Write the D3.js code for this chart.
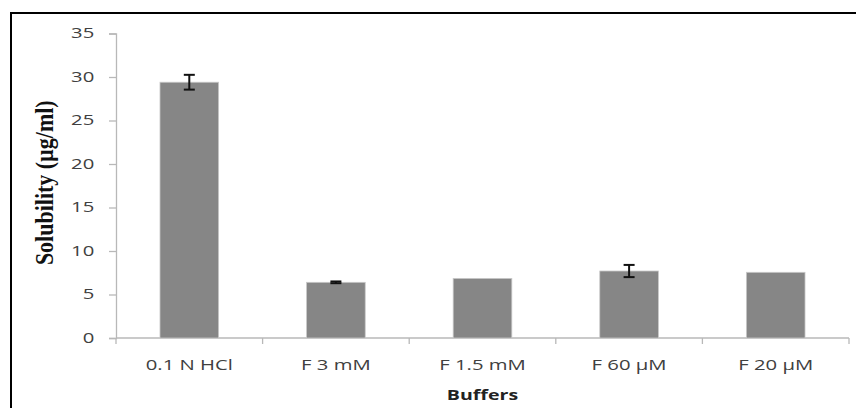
<!DOCTYPE html>
<html>
<head>
<meta charset="utf-8">
<script src="https://cdn.jsdelivr.net/npm/d3@7"></script>
<style>
  html, body { margin: 0; padding: 0; background: #fff; }
  svg { display: block; }
</style>
</head>
<body>
<svg id="chart" width="856" height="408"></svg>
<script>
const categories = ["0.1 N HCl", "F 3 mM", "F 1.5 mM", "F 60 µM", "F 20 µM"];
const values = [29.4, 6.4, 6.85, 7.7, 7.55];
const errors = [0.85, 0.1, 0, 0.7, 0];
const yTicks = [0, 5, 10, 15, 20, 25, 30, 35];

const svg = d3.select("#chart");
const pLeft = 116, pRight = 849, pTop = 33.5, pBottom = 338;
const stretch = 1.45; // horizontal stretch of text in the reference

// outer frame (only top and left visible in reference)
svg.append("rect").attr("x", 11).attr("y", 13).attr("width", 1000).attr("height", 1000)
  .attr("fill", "none").attr("stroke", "#000").attr("stroke-width", 2);

const x = d3.scaleBand().domain(categories).range([pLeft, pRight])
  .paddingInner(0.6).paddingOuter(0.3);
const y = d3.scaleLinear().domain([0, 35]).range([pBottom, pTop]);

// y axis
const yAxis = svg.append("g").attr("transform", `translate(${pLeft},0)`)
  .call(d3.axisLeft(y).tickValues(yTicks).tickSize(7).tickPadding(8));
yAxis.select(".domain").attr("stroke", "#b8b8b8").attr("stroke-width", 1.3);
yAxis.selectAll(".tick line").attr("stroke", "#b8b8b8").attr("stroke-width", 1.3);
yAxis.selectAll("text").attr("font-family", "'Open Sans', sans-serif")
  .attr("font-size", 14).attr("fill", "#404040")
  .attr("transform", `scale(${stretch},1)`);

// x axis
const xAxis = svg.append("g").attr("transform", `translate(0,${pBottom})`)
  .call(d3.axisBottom(x).tickSize(0).tickPadding(22));
xAxis.select(".domain").attr("stroke", "#b8b8b8").attr("stroke-width", 1.3)
  .attr("d", `M${pLeft},0H${pRight}`);
xAxis.selectAll("text").attr("font-family", "'Open Sans', sans-serif")
  .attr("font-size", 14).attr("fill", "#404040")
  .attr("transform", `scale(${stretch},1)`);
// category boundary ticks
const bounds = d3.range(categories.length + 1).map(i => pLeft + i * x.step());
svg.append("g").selectAll("line").data(bounds).join("line")
  .attr("x1", d => d).attr("x2", d => d)
  .attr("y1", pBottom).attr("y2", pBottom + 6)
  .attr("stroke", "#b8b8b8").attr("stroke-width", 1.3);

// bars
svg.append("g").selectAll("rect").data(values).join("rect")
  .attr("x", (d, i) => x(categories[i]))
  .attr("y", d => y(d))
  .attr("width", x.bandwidth())
  .attr("height", d => pBottom - y(d))
  .attr("fill", "#868686")
  .attr("stroke", "#c8c8c8").attr("stroke-width", 0.8);

// error bars
const eg = svg.append("g").attr("stroke", "#111").attr("stroke-width", 2);
values.forEach((v, i) => {
  if (!errors[i]) return;
  const cx = x(categories[i]) + x.bandwidth() / 2;
  const y1 = y(v + errors[i]), y2 = y(v - errors[i]);
  eg.append("line").attr("x1", cx).attr("x2", cx).attr("y1", y1).attr("y2", y2);
  eg.append("line").attr("x1", cx - 5.5).attr("x2", cx + 5.5).attr("y1", y1).attr("y2", y1);
  eg.append("line").attr("x1", cx - 5.5).attr("x2", cx + 5.5).attr("y1", y2).attr("y2", y2);
});

// axis titles
svg.append("text")
  .attr("transform", `translate(53,${(pTop + pBottom) / 2 - 3}) scale(1.15,1) rotate(-90)`)
  .attr("text-anchor", "middle")
  .attr("font-family", "'Liberation Serif', 'Times New Roman', serif")
  .attr("font-weight", "bold").attr("font-size", 22).attr("fill", "#111")
  .text("Solubility (µg/ml)");

svg.append("text")
  .attr("transform", `translate(${(pLeft + pRight) / 2},400) scale(${stretch},1)`)
  .attr("text-anchor", "middle")
  .attr("font-family", "'Open Sans', sans-serif")
  .attr("font-weight", "bold").attr("font-size", 13.5).attr("fill", "#222")
  .text("Buffers");
</script>
</body>
</html>
